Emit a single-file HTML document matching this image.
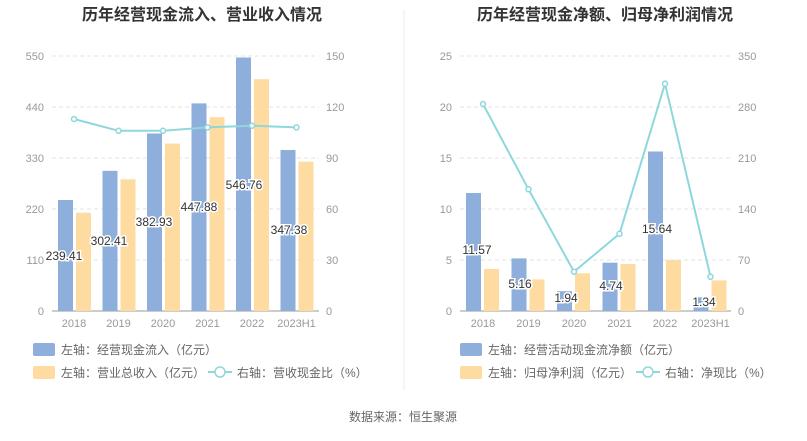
<!DOCTYPE html>
<html><head><meta charset="utf-8"><style>
body{margin:0;background:#fff;}
svg text{font-family:"Liberation Sans","Noto Sans CJK SC",sans-serif;}
</style></head><body>
<svg width="807" height="436" viewBox="0 0 807 436" xmlns="http://www.w3.org/2000/svg">
<rect width="807" height="436" fill="#fff"/>
<line x1="404" y1="10" x2="404" y2="390" stroke="#eee"/>
<text x="202" y="20" text-anchor="middle" font-size="16" font-weight="bold" fill="#333">历年经营现金流入、营业收入情况</text>
<text x="605" y="20" text-anchor="middle" font-size="16" font-weight="bold" fill="#333">历年经营现金净额、归母净利润情况</text>
<g stroke="#e3e3e3" stroke-dasharray="4,3">
<line x1="52" y1="56" x2="319" y2="56"/><line x1="52" y1="107" x2="319" y2="107"/><line x1="52" y1="158" x2="319" y2="158"/><line x1="52" y1="209" x2="319" y2="209"/><line x1="52" y1="260" x2="319" y2="260"/>
<line x1="460" y1="56" x2="731" y2="56"/><line x1="460" y1="107" x2="731" y2="107"/><line x1="460" y1="158" x2="731" y2="158"/><line x1="460" y1="209" x2="731" y2="209"/><line x1="460" y1="260" x2="731" y2="260"/>
</g>
<line x1="52" y1="311" x2="319" y2="311" stroke="#999"/>
<line x1="460" y1="311" x2="731" y2="311" stroke="#999"/>
<g font-size="11" fill="#999" text-anchor="end">
<text x="44" y="60">550</text><text x="44" y="111">440</text><text x="44" y="162">330</text><text x="44" y="213">220</text><text x="44" y="264">110</text><text x="44" y="315">0</text>
<text x="452" y="60">25</text><text x="452" y="111">20</text><text x="452" y="162">15</text><text x="452" y="213">10</text><text x="452" y="264">5</text><text x="452" y="315">0</text>
</g>
<g font-size="11" fill="#999">
<text x="326" y="60">150</text><text x="326" y="111">120</text><text x="326" y="162">90</text><text x="326" y="213">60</text><text x="326" y="264">30</text><text x="326" y="315">0</text>
<text x="738" y="60">350</text><text x="738" y="111">280</text><text x="738" y="162">210</text><text x="738" y="213">140</text><text x="738" y="264">70</text><text x="738" y="315">0</text>
</g>
<g font-size="11" fill="#999" text-anchor="middle">
<text x="74" y="327">2018</text><text x="118.5" y="327">2019</text><text x="163" y="327">2020</text><text x="207.5" y="327">2021</text><text x="252" y="327">2022</text><text x="296.5" y="327">2023H1</text>
<text x="483" y="327">2018</text><text x="528.5" y="327">2019</text><text x="574" y="327">2020</text><text x="619.5" y="327">2021</text><text x="665" y="327">2022</text><text x="710.5" y="327">2023H1</text>
</g>
<g fill="#8eaedb">
<rect x="58" y="200" width="15" height="111"/><rect x="102.5" y="170.8" width="15" height="140.2"/><rect x="147" y="133.5" width="15" height="177.5"/><rect x="191.5" y="103.4" width="15" height="207.6"/><rect x="236" y="57.5" width="15" height="253.5"/><rect x="280.5" y="150" width="15" height="161"/>
<rect x="466" y="193" width="15" height="118"/><rect x="511.5" y="258.4" width="15" height="52.6"/><rect x="557" y="291.2" width="15" height="19.8"/><rect x="602.5" y="262.7" width="15" height="48.3"/><rect x="648" y="151.5" width="15" height="159.5"/><rect x="693.5" y="297.3" width="15" height="13.7"/>
</g>
<g fill="#fedba0">
<rect x="76" y="212.7" width="15" height="98.3"/><rect x="120.5" y="179.3" width="15" height="131.7"/><rect x="165" y="143.6" width="15" height="167.4"/><rect x="209.5" y="117.2" width="15" height="193.8"/><rect x="254" y="79.2" width="15" height="231.8"/><rect x="298.5" y="161.7" width="15" height="149.3"/>
<rect x="484" y="269" width="15" height="42"/><rect x="529.5" y="279.4" width="15" height="31.6"/><rect x="575" y="273.3" width="15" height="37.7"/><rect x="620.5" y="264" width="15" height="47"/><rect x="666" y="260" width="15" height="51"/><rect x="711.5" y="280.4" width="15" height="30.6"/>
</g>
<polyline fill="none" stroke="#8ed8dc" stroke-width="2" points="74,119 118.5,130.8 163,130.8 207.5,127.4 252,125.7 296.5,127.4"/>
<polyline fill="none" stroke="#8ed8dc" stroke-width="2" points="483,104 528.5,189.3 574,271.7 619.5,233.8 665,83.7 710.5,276.8"/>
<g fill="#fff" stroke="#8ed8dc" stroke-width="1.5">
<circle cx="74" cy="119" r="2.5"/><circle cx="118.5" cy="130.8" r="2.5"/><circle cx="163" cy="130.8" r="2.5"/><circle cx="207.5" cy="127.4" r="2.5"/><circle cx="252" cy="125.7" r="2.5"/><circle cx="296.5" cy="127.4" r="2.5"/>
<circle cx="483" cy="104" r="2.5"/><circle cx="528.5" cy="189.3" r="2.5"/><circle cx="574" cy="271.7" r="2.5"/><circle cx="619.5" cy="233.8" r="2.5"/><circle cx="665" cy="83.7" r="2.5"/><circle cx="710.5" cy="276.8" r="2.5"/>
</g>
<g font-size="12" fill="#333" text-anchor="middle" stroke="#fff" stroke-width="3" paint-order="stroke">
<text x="64" y="260">239.41</text><text x="109" y="245">302.41</text><text x="154" y="226">382.93</text><text x="199" y="211">447.88</text><text x="244" y="189">546.76</text><text x="289" y="234">347.38</text>
<text x="477" y="254">11.57</text><text x="520" y="288">5.16</text><text x="566" y="302">1.94</text><text x="611" y="290">4.74</text><text x="657" y="233">15.64</text><text x="704" y="306">1.34</text>
</g>
<g font-size="12" fill="#666">
<rect x="33" y="343" width="22" height="13" rx="2" fill="#8eaedb"/><text x="61" y="354">左轴：经营现金流入（亿元）</text>
<rect x="33" y="366" width="22" height="13" rx="2" fill="#fedba0"/><text x="61" y="377">左轴：营业总收入（亿元）</text>
<line x1="208" y1="372" x2="232" y2="372" stroke="#8ed8dc" stroke-width="2"/><circle cx="220" cy="372" r="5" fill="#fff" stroke="#8ed8dc" stroke-width="1.5"/><text x="237" y="377">右轴：营收现金比（%）</text>
<rect x="460" y="343" width="22" height="13" rx="2" fill="#8eaedb"/><text x="488" y="354">左轴：经营活动现金流净额（亿元）</text>
<rect x="460" y="366" width="22" height="13" rx="2" fill="#fedba0"/><text x="488" y="377">左轴：归母净利润（亿元）</text>
<line x1="636" y1="372" x2="660" y2="372" stroke="#8ed8dc" stroke-width="2"/><circle cx="648" cy="372" r="5" fill="#fff" stroke="#8ed8dc" stroke-width="1.5"/><text x="665" y="377">右轴：净现比（%）</text>
</g>
<text x="403" y="421" text-anchor="middle" font-size="12" fill="#666">数据来源：恒生聚源</text>
</svg>
</body></html>
